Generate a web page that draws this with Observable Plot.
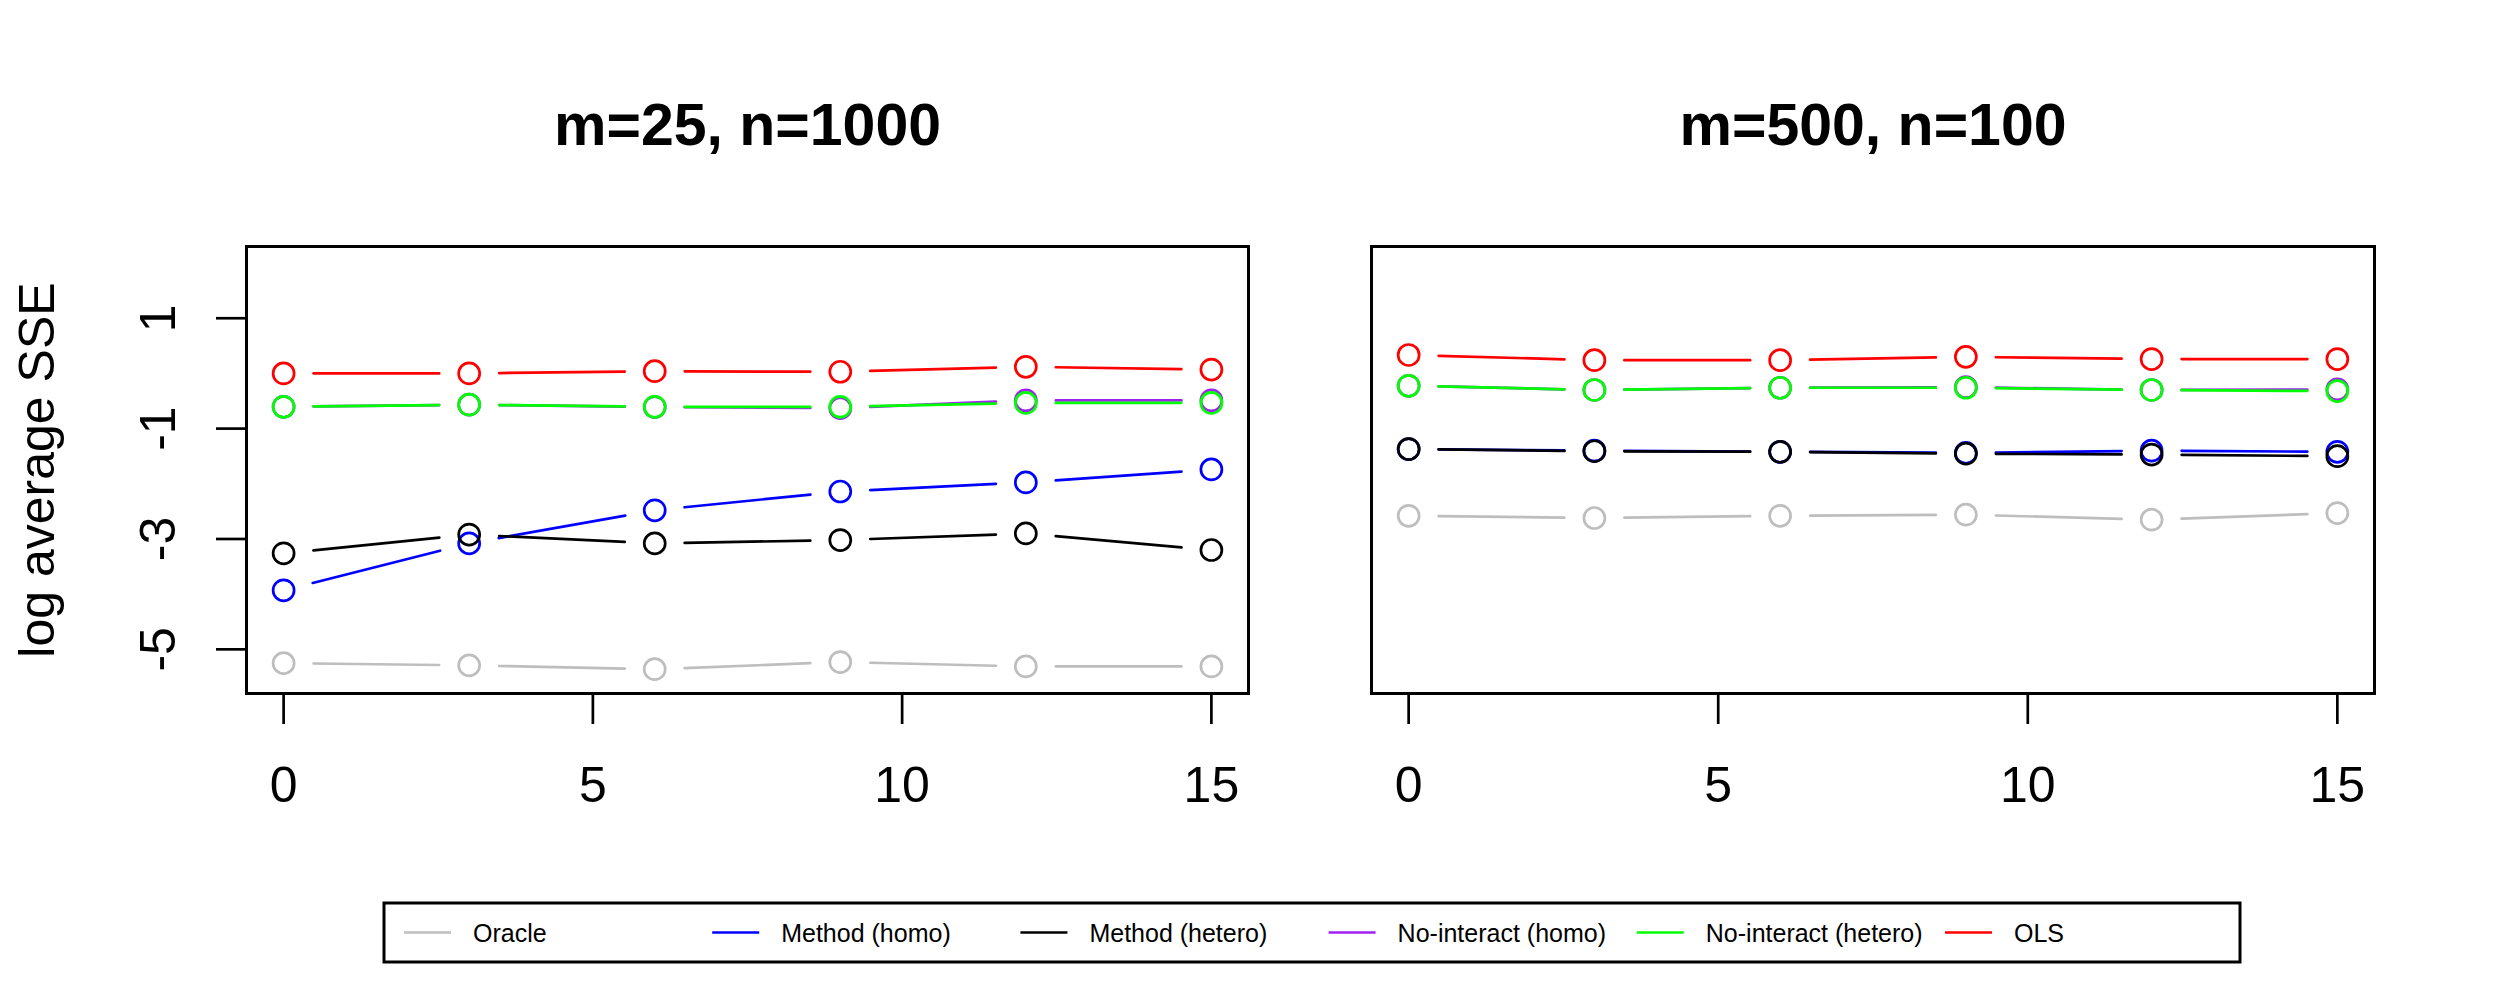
<!DOCTYPE html>
<html>
<head>
<meta charset="utf-8">
<script src="https://cdn.jsdelivr.net/npm/d3@7"></script>
<script src="https://cdn.jsdelivr.net/npm/@observablehq/plot@0.6"></script>
<style>
  html, body { margin: 0; padding: 0; background: #ffffff; }
  #chart { position: relative; width: 2500px; height: 1000px; background: #ffffff; overflow: hidden; }
  #chart > * { position: absolute; }
</style>
</head>
<body>
<div id="chart"></div>
<script>
// ---------- data ----------
const xValues = [0, 3, 6, 9, 12, 15];
const xTicks = [0, 5, 10, 15];
const yTicks = [-5, -3, -1, 1];
const yTickLabels = ["-5", "-3", "-1", "1"];
const seriesNames = ["Oracle", "Method (homo)", "Method (hetero)", "No-interact (homo)", "No-interact (hetero)", "OLS"];
const seriesColors = ["#BEBEBE", "#0000FF", "#000000", "#A020F0", "#00FF00", "#FF0000"];
const panelTitles = ["m=25, n=1000", "m=500, n=100"];
const yLabel = "log average SSE";

// panel 1: m=25, n=1000
const oracleL       = [-5.25, -5.29, -5.36, -5.23, -5.31, -5.31];
const methodHomoL   = [-3.93, -3.08, -2.48, -2.14, -1.975, -1.74];
const methodHeteroL = [-3.26, -2.92, -3.08, -3.02, -2.90, -3.20];
const noIntHomoL    = [-0.605, -0.567, -0.61, -0.63, -0.49, -0.49];
const noIntHeteroL  = [-0.605, -0.567, -0.605, -0.605, -0.535, -0.535];
const olsL          = [0.0, 0.0, 0.04, 0.03, 0.12, 0.07];

// panel 2: m=500, n=100
const oracleR       = [-2.58, -2.62, -2.58, -2.56, -2.65, -2.53];
const methodHomoR   = [-1.37, -1.40, -1.42, -1.44, -1.40, -1.42];
const methodHeteroR = [-1.37, -1.41, -1.42, -1.455, -1.47, -1.50];
const noIntHomoR    = [-0.224, -0.30, -0.26, -0.25, -0.30, -0.29];
const noIntHeteroR  = [-0.224, -0.30, -0.26, -0.26, -0.30, -0.32];
const olsR          = [0.334, 0.24, 0.24, 0.30, 0.26, 0.26];

const panelValues = [
  [oracleL, methodHomoL, methodHeteroL, noIntHomoL, noIntHeteroL, olsL],
  [oracleR, methodHomoR, methodHeteroR, noIntHomoR, noIntHeteroR, olsR]
];

// ---------- drawing ----------
const FONT = "'Liberation Sans', Arial, Helvetica, sans-serif";
const xDomain = [-0.6, 15.6];
const yDomain = [-5.8, 2.3];
const H = 850, MT = 246, MB = 157;
const LW = 2.7;
const GAP = 30;

function makePanel(title, values, {width, marginLeft, marginRight, showY}) {
  const kx = (width - marginLeft - marginRight) / (xDomain[1] - xDomain[0]);
  const ky = (H - MT - MB) / (yDomain[1] - yDomain[0]);
  const marks = [];
  values.forEach((vals, i) => {
    const pts = xValues.map((x, j) => ({x, y: vals[j]}));
    const segs = [];
    for (let j = 0; j < pts.length - 1; j++) {
      const a = pts[j], b = pts[j + 1];
      const L = Math.hypot((b.x - a.x) * kx, (b.y - a.y) * ky);
      if (L <= 2 * GAP) continue;
      const t = GAP / L;
      segs.push({
        x1: a.x + (b.x - a.x) * t, y1: a.y + (b.y - a.y) * t,
        x2: b.x - (b.x - a.x) * t, y2: b.y - (b.y - a.y) * t
      });
    }
    marks.push(Plot.link(segs, {x1: "x1", y1: "y1", x2: "x2", y2: "y2",
      stroke: seriesColors[i], strokeWidth: LW, strokeLinecap: "round"}));
    marks.push(Plot.dot(pts, {x: "x", y: "y", r: 10.5, stroke: seriesColors[i],
      strokeWidth: LW, fill: "none"}));
  });
  marks.push(Plot.frame({stroke: "#000", strokeWidth: 3}));
  marks.push(Plot.axisX(xTicks, {tickSize: 31, tickFormat: () => "", strokeWidth: LW, label: null}));
  marks.push(Plot.text(xTicks, {x: d => d, text: d => String(d), frameAnchor: "bottom",
    dy: 92, fontSize: 50, lineAnchor: "middle", fill: "#000"}));
  if (showY) {
    marks.push(Plot.axisY(yTicks, {tickSize: 30, tickFormat: () => "", strokeWidth: LW, label: null}));
    marks.push(Plot.text(yTicks, {y: d => d, text: (d, i) => yTickLabels[i], frameAnchor: "left",
      dx: -88, rotate: -90, fontSize: 50, textAnchor: "middle", lineAnchor: "middle", fill: "#000"}));
    marks.push(Plot.text([yLabel], {text: d => d, frameAnchor: "left", dx: -209, rotate: -90,
      fontSize: 50, textAnchor: "middle", lineAnchor: "middle", fill: "#000"}));
  }
  marks.push(Plot.text([title], {text: d => d, frameAnchor: "top", dy: -120, fontSize: 59,
    fontWeight: "bold", lineAnchor: "middle", fill: "#000"}));

  return Plot.plot({
    width, height: H,
    marginLeft, marginRight, marginTop: MT, marginBottom: MB,
    x: {type: "linear", domain: xDomain},
    y: {type: "linear", domain: yDomain, axis: showY ? undefined : null},
    style: {fontFamily: FONT, fontSize: "50px", background: "transparent", overflow: "visible", color: "#000"},
    marks
  });
}

const chart = document.getElementById("chart");
const left = makePanel(panelTitles[0], panelValues[0], {width: 1300, marginLeft: 246, marginRight: 52, showY: true});
left.style.left = "0px"; left.style.top = "0px";
chart.appendChild(left);
const right = makePanel(panelTitles[1], panelValues[1], {width: 1200, marginLeft: 71, marginRight: 126, showY: false});
right.style.left = "1300px"; right.style.top = "0px";
chart.appendChild(right);

// ---------- legend (below the plots) ----------
const legend = d3.create("svg")
  .attr("width", 2500).attr("height", 150)
  .style("left", "0px").style("top", "850px")
  .style("font-family", FONT);
legend.append("rect")
  .attr("x", 384).attr("y", 53).attr("width", 1856).attr("height", 59)
  .attr("fill", "none").attr("stroke", "#000").attr("stroke-width", 3);
const items = legend.selectAll("g").data(seriesNames).join("g")
  .attr("transform", (d, i) => `translate(${404 + i * 308.2},82.5)`);
items.append("line").attr("x1", 0).attr("x2", 47).attr("y1", 0).attr("y2", 0)
  .attr("stroke", (d, i) => seriesColors[i]).attr("stroke-width", LW);
items.append("text").attr("x", 69).attr("y", 0).attr("dy", "0.36em")
  .attr("font-size", 25).attr("fill", "#000").text(d => d);
chart.appendChild(legend.node());
</script>
</body>
</html>
